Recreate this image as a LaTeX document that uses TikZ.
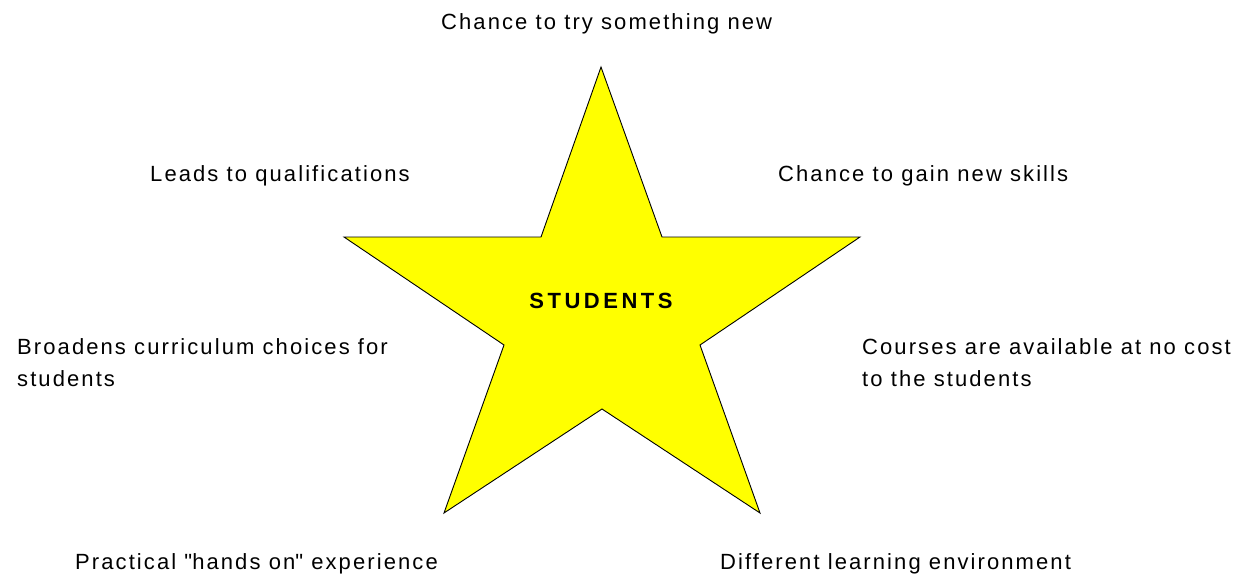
\documentclass[tikz,border=0pt]{standalone}
\usepackage{fontspec}
\setmainfont{Liberation Sans}[LetterSpace=9.5]
\definecolor{starfill}{RGB}{255,255,0}

\begin{document}
\begin{tikzpicture}[x=1pt,y=-1pt,font=\fontsize{22}{32}\selectfont]
\useasboundingbox (0,0) rectangle (1249,578);
% 中间的五角星
\draw[fill=starfill, line width=0.9pt] (601,67) -- (662,237) -- (860,237) -- (700,345) -- (760,513)
  -- (602,409) -- (444,513) -- (504,345) -- (344,237) -- (541,237) -- cycle;
\node[inner sep=0] (students) at (601,301) {\bfseries\addfontfeature{LetterSpace=16}STUDENTS};

% 周围的标签
\node[inner sep=0, anchor=west] (try) at (441,24) {Chance to try something new};
\node[inner sep=0, anchor=west] (qual) at (150,176) {Leads to qualifications};
\node[inner sep=0, anchor=west] (skills) at (778,176) {Chance to gain new skills};
\node[inner sep=0, anchor=west, align=left] (broad) at (17,363) {Broadens curriculum choices for\\students};
\node[inner sep=0, anchor=west, align=left] (cost) at (862,363) {Courses are available at no cost\\to the students};
\node[inner sep=0, anchor=west] (hands) at (75,564) {Practical \textquotedbl hands on\textquotedbl{} experience};
\node[inner sep=0, anchor=west] (env) at (720,564) {Different learning environment};
\end{tikzpicture}
\end{document}
